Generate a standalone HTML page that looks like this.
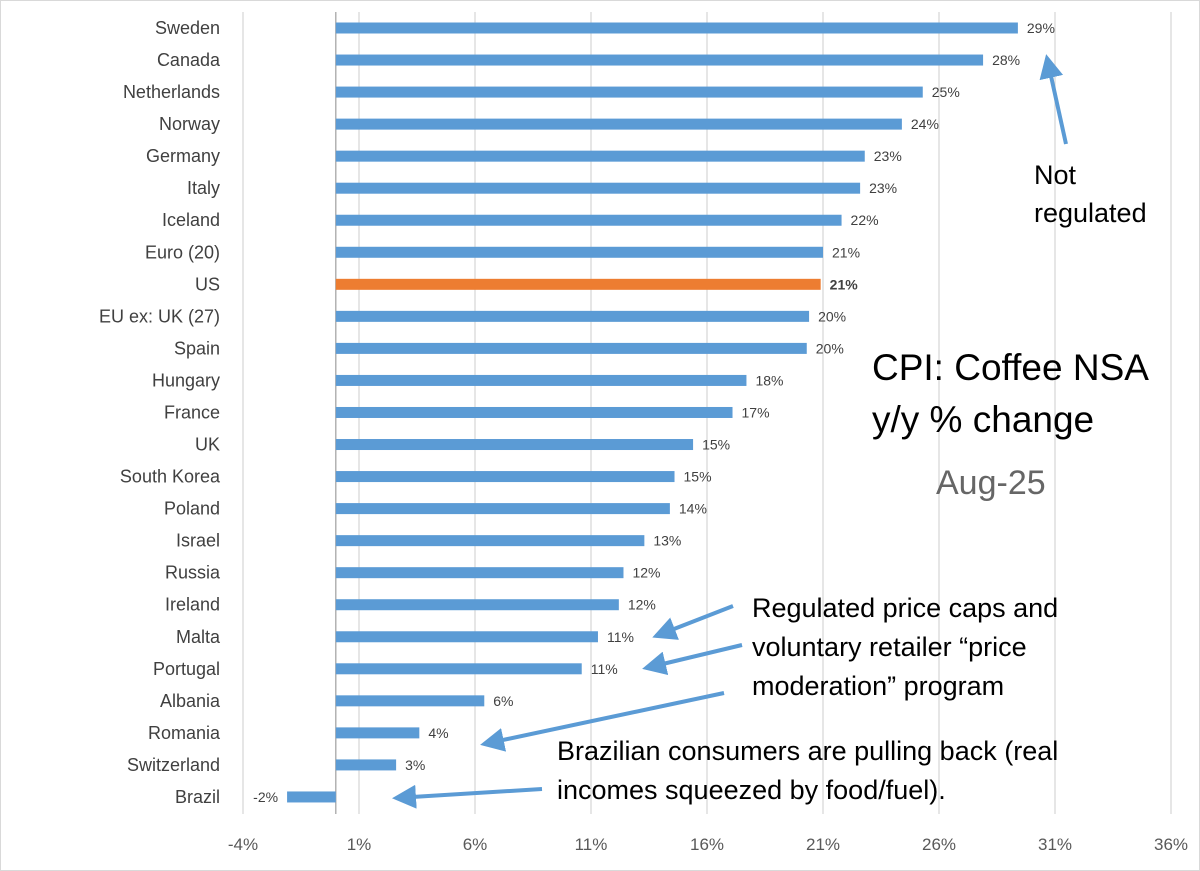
<!DOCTYPE html>
<html><head><meta charset="utf-8"><style>
body{margin:0;background:#fff}
svg{display:block;font-family:"Liberation Sans",sans-serif}
</style></head><body>
<svg id="c" width="1200" height="871">
<rect x="0.5" y="0.5" width="1199" height="870" fill="#fff" stroke="#d9d9d9"/>
<g id="grid"></g><g id="bars"></g><g id="labels"></g>
<defs><marker id="ah" markerWidth="6" markerHeight="6" refX="5" refY="3" orient="auto"><path d="M0,0L6,3L0,6z" fill="#5b9bd5"/></marker></defs>
<g fill="#000" font-size="27">
<text x="1034" y="184">Not</text>
<text x="1034" y="222">regulated</text>
<text x="752" y="617">Regulated price caps and</text>
<text x="752" y="656">voluntary retailer “price</text>
<text x="752" y="695">moderation” program</text>
<text x="557" y="760">Brazilian consumers are pulling back (real</text>
<text x="557" y="799">incomes squeezed by food/fuel).</text>
<text x="872" y="380" font-size="37">CPI: Coffee NSA</text>
<text x="872" y="432" font-size="37">y/y % change</text>
<text x="936" y="494" font-size="34" fill="#666">Aug-25</text>
</g>
<g stroke="#5b9bd5" stroke-width="4" marker-end="url(#ah)">
<line x1="1066" y1="144" x2="1047" y2="58"/>
<line x1="733" y1="606" x2="656" y2="636"/>
<line x1="742" y1="645" x2="646" y2="668"/>
<line x1="724" y1="693" x2="484" y2="744"/>
<line x1="542" y1="789" x2="396" y2="798"/>
</g>
</svg>
<script>
const categories=["Sweden","Canada","Netherlands","Norway","Germany","Italy","Iceland","Euro (20)","US","EU ex: UK (27)","Spain","Hungary","France","UK","South Korea","Poland","Israel","Russia","Ireland","Malta","Portugal","Albania","Romania","Switzerland","Brazil"];
const values=[29.4,27.9,25.3,24.4,22.8,22.6,21.8,21.0,20.9,20.4,20.3,17.7,17.1,15.4,14.6,14.4,13.3,12.4,12.2,11.3,10.6,6.4,3.6,2.6,-2.1];
const ticks=[-4,1,6,11,16,21,26,31,36];
const NS="http://www.w3.org/2000/svg";
const x=v=>335.8+v*23.2;
const y=i=>28+i*32.04;
function mk(t,a,p,txt){const e=document.createElementNS(NS,t);for(const k in a)e.setAttribute(k,a[k]);if(txt!=null)e.textContent=txt;document.getElementById(p).appendChild(e);return e;}
ticks.forEach(t=>{
 const l=mk('line',{x1:x(t),x2:x(t),y1:12,y2:814,stroke:'#d9d9d9','stroke-width':1.3},'grid');
 
 
 const tx=mk('text',{x:x(t),y:850,'text-anchor':'middle','font-size':17,fill:'#595959'},'grid',t+'%');
 
 
});
const ax=mk('line',{x1:x(0),x2:x(0),y1:12,y2:814,stroke:'#a6a6a6','stroke-width':1.3},'grid');


categories.forEach((c,i)=>{
 const v=values[i],us=c==='US';
 const r=mk('rect',{x:Math.min(x(0),x(v)),y:y(i)-5.5,width:Math.abs(x(v)-x(0)),height:11,fill:us?'#ed7d31':'#5b9bd5'},'bars');
 
 
 const cl=mk('text',{x:220,y:y(i)+6,'text-anchor':'end','font-size':18,fill:'#404040'},'labels',c);
 
 
 const vl=mk('text',{x:v<0?x(v)-9:x(v)+9,y:y(i)+5,'text-anchor':v<0?'end':'start','font-size':14,fill:'#404040','font-weight':us?'bold':'normal'},'labels',Math.round(v)+'%');
 
 
});
</script>
</body></html>
